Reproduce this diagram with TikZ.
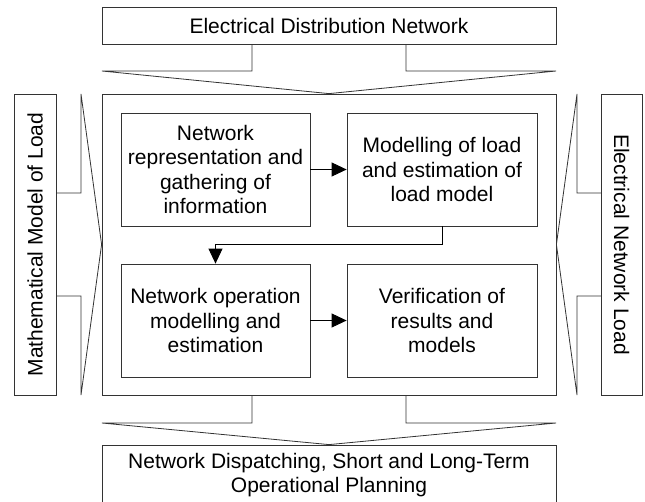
\documentclass[tikz,border=0pt]{standalone}
\usepackage{fontspec}
\setmainfont{Liberation Sans}
\usetikzlibrary{arrows.meta}
\begin{document}
\begin{tikzpicture}[x=1pt,y=-1pt,
  box/.style={draw=black!80, line width=0.8pt, inner sep=0pt, align=center, font=\fontsize{21}{24.6}\selectfont, fill=white},
  ln/.style={draw=black!80, line width=0.8pt, line join=miter},
  arr/.style={draw=black, line width=0.8pt, -{Triangle[length=15pt,width=14pt]}}]
\useasboundingbox (0,0) rectangle (645,501);
% outer boxes
\node[box, minimum width=454pt, minimum height=37pt] (top) at (329,25.5) {Electrical Distribution Network};
\node[box, minimum width=454pt, minimum height=301pt] (main) at (329,244.5) {};
\node[box, minimum width=301pt, minimum height=42pt, rotate=90] (left) at (35,244.5) {Mathematical Model of Load};
\node[box, minimum width=301pt, minimum height=41pt, rotate=-90] (right) at (621.5,244.5) {Electrical Network Load};
\node[box, minimum width=454pt, minimum height=60pt] (bot) at (329,475) {Network Dispatching, Short and Long-Term\\Operational Planning};
% block arrows
\draw[ln] (252,44) -- (252,71) -- (102,71) -- (main.north) -- (556,71) -- (406,71) -- (406,44);
\draw[ln] (252,395) -- (252,423) -- (102,423) -- (bot.north) -- (556,423) -- (406,423) -- (406,395);
\draw[ln] (56,193) -- (81,193) -- (81,94) -- (main.west) -- (81,395) -- (81,296) -- (56,296);
\draw[ln] (601,193) -- (577,193) -- (577,94) -- (main.east) -- (577,395) -- (577,296) -- (601,296);
% inner boxes
\node[box, minimum width=189pt, minimum height=113pt] (b1) at (215.5,169.5) {Network\\representation and\\gathering of\\information};
\node[box, minimum width=190pt, minimum height=113pt] (b2) at (442,169.5) {Modelling of load\\and estimation of\\load model};
\node[box, minimum width=189pt, minimum height=113pt] (b3) at (215.5,320.5) {Network operation\\modelling and\\estimation};
\node[box, minimum width=190pt, minimum height=113pt] (b4) at (442,320.5) {Verification of\\results and\\models};
% connectors
\draw[arr] (b1) -- (b2);
\draw[arr] (b2.south) -- ++(0,18) -| (b3.north);
\draw[arr] (b3) -- (b4);
\end{tikzpicture}
\end{document}
